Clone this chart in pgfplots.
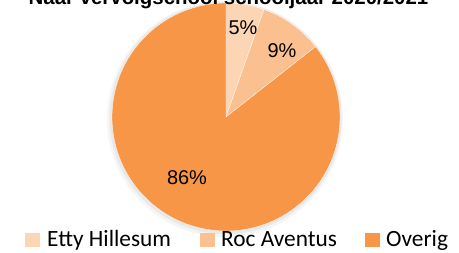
\documentclass[border=0pt]{standalone}
\usepackage{pgfplots}
\pgfplotsset{compat=1.18}
\usepackage{pgfplotstable}
\usepackage{fontspec}
\setmainfont{Liberation Sans}
\newfontfamily\carlito{Carlito}
\definecolor{cA}{HTML}{FCD5B5}
\definecolor{cB}{HTML}{FAC090}
\definecolor{cC}{HTML}{F79646}
\pgfplotstableread{
name value
Etty 5.4
Roc 9.0
Overig 85.6
}\piedata
\begin{document}
\begin{tikzpicture}
\pgfplotstablegetelem{0}{value}\of\piedata \pgfmathsetmacro\va{\pgfplotsretval}
\pgfplotstablegetelem{1}{value}\of\piedata \pgfmathsetmacro\vb{\pgfplotsretval}
\pgfplotstablegetelem{2}{value}\of\piedata \pgfmathsetmacro\vc{\pgfplotsretval}
\pgfmathsetmacro\aA{90-3.6*\va}
\pgfmathsetmacro\aB{\aA-3.6*\vb}
\pgfmathsetmacro\aC{\aB-3.6*\vc}
\begin{axis}[x=1bp,y=1bp,xmin=0,xmax=459,ymin=0,ymax=253,
  hide axis, at={(0,0)}, anchor=south west, clip=false]
% soft shadow
\fill[black, opacity=0.04] (axis cs:225,134) circle[radius=118bp];
\fill[black, opacity=0.05] (axis cs:225.5,135) circle[radius=116bp];
% slices
\fill[cA, draw=white, line width=0.3pt] (axis cs:226,136) -- ++(90:114bp) arc[start angle=90, end angle=\aA, radius=114bp] -- cycle;
\fill[cB, draw=white, line width=0.3pt] (axis cs:226,136) -- ++(\aA:114bp) arc[start angle=\aA, end angle=\aB, radius=114bp] -- cycle;
\fill[cC, draw=white, line width=0.3pt] (axis cs:226,136) -- ++(\aB:114bp) arc[start angle=\aB, end angle=\aC, radius=114bp] -- cycle;
% data labels
\node[font=\fontsize{20}{24}\selectfont] at (axis cs:243,225) {5\%};
\node[font=\fontsize{20}{24}\selectfont] at (axis cs:282,202.5) {9\%};
\node[font=\fontsize{20}{24}\selectfont] at (axis cs:187,75.5) {86\%};
% legend
\fill[cA] (axis cs:25,6) rectangle (axis cs:40,20);
\node[anchor=base west, inner sep=0pt, font=\carlito\fontsize{23.4}{28}\selectfont] at (axis cs:47,7) {Etty Hillesum};
\fill[cB] (axis cs:200,6) rectangle (axis cs:215,20);
\node[anchor=base west, inner sep=0pt, font=\carlito\fontsize{23.4}{28}\selectfont] at (axis cs:221,7) {Roc Aventus};
\fill[cC] (axis cs:365,6) rectangle (axis cs:380,20);
\node[anchor=base west, inner sep=0pt, font=\carlito\fontsize{23.4}{28}\selectfont] at (axis cs:386,7) {Overig};
% title (partly above the page, as in the reference)
\node[anchor=base, font=\bfseries\fontsize{20.5}{24}\selectfont] at (axis cs:228.5,248.5) {Naar vervolgschool schooljaar 2020/2021};
\end{axis}
\pgfresetboundingbox
\path[use as bounding box] (0,0) rectangle (459bp,253bp);
\end{tikzpicture}
\end{document}
